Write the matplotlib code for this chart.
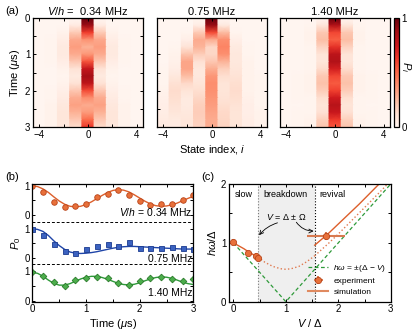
import numpy as np
import matplotlib
matplotlib.use('Agg')
import matplotlib.pyplot as plt
from matplotlib.ticker import MultipleLocator, FixedLocator

plt.rcParams['font.family'] = 'Liberation Sans'
plt.rcParams['mathtext.fontset'] = 'custom'
plt.rcParams['mathtext.rm'] = 'Liberation Sans'
plt.rcParams['mathtext.it'] = 'Liberation Sans:italic'
plt.rcParams['mathtext.bf'] = 'Liberation Sans:bold'
plt.rcParams['font.size'] = 7
plt.rcParams['axes.linewidth'] = 0.9

# ---- (a) heatmaps: P_i(t), states -4..4, rows every 0.2 us ----
STATES = np.arange(-4, 5)
MAP_TIMES = [0.0, 0.2, 0.4, 0.6, 0.8, 1.0, 1.2, 1.4, 1.6, 1.8, 2.0, 2.2, 2.4, 2.6, 2.8, 3.0]
MAP_TITLES = [r'$V/h$ =  0.34 MHz', '0.75 MHz', '1.40 MHz']

map_034 = [
    [0.00, 0.00, 0.00, 0.00, 1.00, 0.00, 0.00, 0.00, 0.00],
    [0.00, 0.00, 0.00, 0.06, 0.89, 0.06, 0.00, 0.00, 0.00],
    [0.00, 0.00, 0.02, 0.20, 0.62, 0.20, 0.02, 0.00, 0.00],
    [0.00, 0.01, 0.05, 0.31, 0.37, 0.31, 0.05, 0.01, 0.00],
    [0.00, 0.01, 0.07, 0.34, 0.28, 0.34, 0.07, 0.01, 0.00],
    [0.00, 0.01, 0.07, 0.30, 0.36, 0.30, 0.07, 0.01, 0.00],
    [0.00, 0.01, 0.05, 0.21, 0.56, 0.21, 0.05, 0.01, 0.00],
    [0.00, 0.00, 0.02, 0.11, 0.77, 0.11, 0.02, 0.00, 0.00],
    [0.00, 0.00, 0.01, 0.07, 0.87, 0.07, 0.01, 0.00, 0.00],
    [0.00, 0.00, 0.02, 0.11, 0.79, 0.11, 0.02, 0.00, 0.00],
    [0.00, 0.01, 0.04, 0.21, 0.58, 0.21, 0.04, 0.01, 0.00],
    [0.00, 0.01, 0.06, 0.30, 0.38, 0.30, 0.06, 0.01, 0.00],
    [0.00, 0.02, 0.08, 0.33, 0.30, 0.33, 0.08, 0.02, 0.00],
    [0.00, 0.02, 0.09, 0.28, 0.35, 0.28, 0.09, 0.02, 0.00],
    [0.00, 0.02, 0.09, 0.21, 0.49, 0.21, 0.09, 0.02, 0.00],
    [0.00, 0.02, 0.08, 0.14, 0.64, 0.14, 0.08, 0.02, 0.00],
]
map_075 = [
    [0.00, 0.00, 0.00, 0.00, 1.00, 0.00, 0.00, 0.00, 0.00],
    [0.00, 0.00, 0.00, 0.05, 0.90, 0.07, 0.00, 0.00, 0.00],
    [0.00, 0.00, 0.01, 0.20, 0.58, 0.25, 0.01, 0.00, 0.00],
    [0.00, 0.00, 0.04, 0.30, 0.29, 0.39, 0.04, 0.00, 0.00],
    [0.00, 0.01, 0.11, 0.27, 0.16, 0.42, 0.07, 0.01, 0.00],
    [0.00, 0.02, 0.22, 0.19, 0.16, 0.38, 0.08, 0.01, 0.00],
    [0.00, 0.03, 0.32, 0.12, 0.21, 0.27, 0.08, 0.02, 0.00],
    [0.01, 0.05, 0.32, 0.08, 0.29, 0.18, 0.09, 0.02, 0.00],
    [0.01, 0.08, 0.24, 0.08, 0.36, 0.13, 0.11, 0.02, 0.01],
    [0.01, 0.12, 0.15, 0.10, 0.39, 0.10, 0.13, 0.02, 0.01],
    [0.02, 0.14, 0.10, 0.13, 0.38, 0.10, 0.14, 0.02, 0.01],
    [0.03, 0.13, 0.07, 0.16, 0.36, 0.11, 0.13, 0.03, 0.01],
    [0.04, 0.11, 0.07, 0.18, 0.34, 0.13, 0.11, 0.04, 0.01],
    [0.05, 0.09, 0.08, 0.19, 0.32, 0.15, 0.10, 0.04, 0.02],
    [0.06, 0.07, 0.09, 0.18, 0.30, 0.16, 0.10, 0.05, 0.02],
    [0.07, 0.06, 0.09, 0.17, 0.30, 0.17, 0.10, 0.05, 0.02],
]
map_140 = [
    [0.00, 0.00, 0.00, 0.00, 1.00, 0.00, 0.00, 0.00, 0.00],
    [0.00, 0.00, 0.01, 0.09, 0.83, 0.09, 0.01, 0.00, 0.00],
    [0.00, 0.00, 0.02, 0.21, 0.59, 0.21, 0.02, 0.00, 0.00],
    [0.00, 0.00, 0.02, 0.24, 0.53, 0.24, 0.02, 0.00, 0.00],
    [0.00, 0.00, 0.01, 0.17, 0.66, 0.17, 0.01, 0.00, 0.00],
    [0.00, 0.00, 0.01, 0.10, 0.80, 0.10, 0.01, 0.00, 0.00],
    [0.00, 0.00, 0.01, 0.09, 0.83, 0.09, 0.01, 0.00, 0.00],
    [0.00, 0.00, 0.01, 0.14, 0.73, 0.14, 0.01, 0.00, 0.00],
    [0.00, 0.01, 0.02, 0.21, 0.59, 0.21, 0.02, 0.01, 0.00],
    [0.00, 0.01, 0.02, 0.23, 0.54, 0.23, 0.02, 0.01, 0.00],
    [0.00, 0.01, 0.02, 0.19, 0.61, 0.19, 0.02, 0.01, 0.00],
    [0.00, 0.01, 0.01, 0.13, 0.74, 0.13, 0.01, 0.01, 0.00],
    [0.00, 0.00, 0.01, 0.10, 0.81, 0.10, 0.01, 0.00, 0.00],
    [0.00, 0.01, 0.01, 0.12, 0.76, 0.12, 0.01, 0.01, 0.00],
    [0.00, 0.01, 0.02, 0.18, 0.63, 0.18, 0.02, 0.01, 0.00],
    [0.00, 0.01, 0.02, 0.22, 0.55, 0.22, 0.02, 0.01, 0.00],
]

# ---- (b) P_0(t) ----
exp_t = [0.0, 0.2, 0.4, 0.6, 0.8, 1.0, 1.2, 1.4, 1.6, 1.8, 2.0, 2.2, 2.4, 2.6, 2.8, 3.0]
exp_034 = [0.99, 0.80, 0.43, 0.27, 0.32, 0.38, 0.61, 0.71, 0.84, 0.67, 0.49, 0.35, 0.39, 0.39, 0.52, 0.69]
exp_075 = [1.00, 0.79, 0.49, 0.25, 0.16, 0.31, 0.42, 0.49, 0.42, 0.53, 0.33, 0.34, 0.35, 0.37, 0.34, 0.31]
exp_140 = [0.97, 0.84, 0.62, 0.51, 0.72, 0.78, 0.81, 0.77, 0.61, 0.55, 0.66, 0.77, 0.81, 0.74, 0.66, 0.74]

sim_t = [0.0, 0.1, 0.2, 0.3, 0.4, 0.5, 0.6, 0.7, 0.8, 0.9, 1.0, 1.1, 1.2, 1.3, 1.4, 1.5,
         1.6, 1.7, 1.8, 1.9, 2.0, 2.1, 2.2, 2.3, 2.4, 2.5, 2.6, 2.7, 2.8, 2.9, 3.0]
sim_034 = [1.00, 0.97, 0.89, 0.77, 0.62, 0.48, 0.37, 0.30, 0.28, 0.30, 0.36, 0.45, 0.56, 0.67, 0.77, 0.84,
           0.87, 0.85, 0.79, 0.69, 0.58, 0.47, 0.38, 0.32, 0.30, 0.31, 0.35, 0.41, 0.49, 0.57, 0.64]
sim_075 = [1.00, 0.97, 0.90, 0.76, 0.58, 0.42, 0.29, 0.20, 0.16, 0.15, 0.16, 0.18, 0.21, 0.25, 0.29, 0.33,
           0.36, 0.38, 0.39, 0.39, 0.38, 0.37, 0.36, 0.35, 0.34, 0.33, 0.32, 0.31, 0.30, 0.30, 0.30]
sim_140 = [0.97, 0.93, 0.83, 0.70, 0.59, 0.53, 0.53, 0.58, 0.66, 0.74, 0.80, 0.83, 0.83, 0.79, 0.73, 0.66,
           0.59, 0.55, 0.54, 0.56, 0.61, 0.68, 0.74, 0.79, 0.81, 0.80, 0.76, 0.70, 0.63, 0.58, 0.55]

# ---- (c) frequency vs V/Delta ----
exp_V = [0.0, 0.28, 0.44, 0.47, 1.76]
exp_hw = [1.02, 0.83, 0.78, 0.75, 1.12]
exp_Verr = [0.02, 0.02, 0.02, 0.02, 0.36]
exp_hwerr = [0.05, 0.03, 0.05, 0.04, 0.07]

slow_V = [0.0, 0.1, 0.2, 0.3, 0.4, 0.47]
slow_hw = [1.00, 0.95, 0.90, 0.84, 0.79, 0.76]
mid_V = [0.47, 0.6, 0.75, 0.9, 1.0, 1.1, 1.25, 1.4, 1.55]
mid_hw = [0.76, 0.67, 0.60, 0.56, 0.55, 0.56, 0.60, 0.68, 0.78]
rev_dot_V = [1.55, 1.8, 2.0, 2.2, 2.4, 2.6, 2.8, 2.95]
rev_dot_hw = [0.78, 0.98, 1.15, 1.33, 1.51, 1.69, 1.87, 2.01]
rev_V = [1.55, 1.8, 2.0, 2.2, 2.4, 2.6, 2.8, 2.9]
rev_hw = [0.96, 1.15, 1.32, 1.49, 1.66, 1.84, 2.02, 2.11]
gap_V = [0.0, 1.0, 3.0]
gap_hw = [1.0, 0.0, 2.0]

ORANGE = '#dd5f2b'
BLUE = '#1f45a8'
GREEN = '#2f9a3a'

fig = plt.figure(figsize=(4.15, 3.32), dpi=100)


def style_ticks(ax):
    ax.tick_params(which='both', direction='in', top=True, right=True,
                   length=2.5, width=0.7, labelsize=7, pad=2)


# ---- panel (a)
map_lefts = [0.0795, 0.378, 0.675]
maps = [map_034, map_075, map_140]
xs = np.repeat(STATES, 2) + np.tile([-0.5, 0.5], len(STATES))
for k in range(3):
    ax = fig.add_axes([map_lefts[k], 0.6175, 0.265, 0.328])
    X, Y = np.meshgrid(xs, MAP_TIMES)
    C = np.repeat(np.array(maps[k]), 2, axis=1)
    mesh = ax.pcolormesh(X, Y, C, shading='gouraud', cmap='Reds', vmin=0, vmax=1)
    ax.set_xlim(-4.5, 4.5)
    ax.set_ylim(3, 0)
    ax.xaxis.set_major_locator(FixedLocator([-4, 0, 4]))
    ax.xaxis.set_minor_locator(FixedLocator([-2, 2]))
    ax.yaxis.set_major_locator(MultipleLocator(1))
    ax.yaxis.set_minor_locator(MultipleLocator(0.5))
    style_ticks(ax)
    ax.set_title(MAP_TITLES[k], fontsize=8, pad=2)
    if k == 0:
        ax.set_ylabel(r'Time ($\mu$s)', fontsize=8, labelpad=2)
    else:
        ax.set_yticklabels([])
    if k == 1:
        ax.set_xlabel(r'State index, $i$', fontsize=8, labelpad=2)

cax = fig.add_axes([0.949, 0.6175, 0.012, 0.328])
cb = fig.colorbar(mesh, cax=cax, ticks=[0, 1])
cb.ax.tick_params(length=0, labelsize=7, pad=2)
cb.outline.set_linewidth(0.9)
fig.text(0.978, 0.80, r'$P_i$', rotation=270, fontsize=8, ha='center', va='center')

# ---- panel (b)
axb = fig.add_axes([0.078, 0.0913, 0.388, 0.3545])
offsets = [2.92, 1.46, 0.0]
series = [
    (exp_034, sim_034, ORANGE, 'o', '#e8703a', '#b8441a', 4.0),
    (exp_075, sim_075, BLUE, 's', '#3b62c0', '#1a3a90', 3.6),
    (exp_140, sim_140, GREEN, 'D', '#4cae4c', '#2a7a2a', 3.4),
]
for (ex, sm, lc, mk, fc, ec, ms), off in zip(series, offsets):
    axb.plot(sim_t, np.array(sm) + off, color=lc, lw=1.0)
    axb.plot(exp_t, np.array(ex) + off, mk, color=fc, mec=ec, mew=0.6, ms=ms, ls='none')
for yl in [2.676, 1.242]:
    axb.axhline(yl, color='k', lw=0.7, ls=(0, (3, 2)))
axb.text(2.98, 3.04, r'$V/h$ = 0.34 MHz', ha='right', va='center', fontsize=7.5)
axb.text(2.98, 1.41, '0.75 MHz', ha='right', va='center', fontsize=7.5)
axb.text(2.98, 0.27, '1.40 MHz', ha='right', va='center', fontsize=7.5)
axb.set_xlim(0, 3)
axb.set_ylim(-0.035, 3.98)
axb.yaxis.set_major_locator(FixedLocator([0, 1, 1.46, 2.46, 2.92, 3.92]))
axb.set_yticklabels(['0', '1', '0', '1', '0', '1'])
axb.yaxis.set_minor_locator(FixedLocator([0.5, 1.96, 3.42]))
axb.xaxis.set_major_locator(MultipleLocator(1))
axb.xaxis.set_minor_locator(MultipleLocator(0.5))
style_ticks(axb)
axb.set_xlabel(r'Time ($\mu$s)', fontsize=8, labelpad=2)
axb.set_ylabel(r'$P_0$', fontsize=8, labelpad=1)

# ---- panel (c)
axc = fig.add_axes([0.552, 0.0913, 0.3896, 0.3545])
axc.axvspan(0.46, 1.55, color='#efefef', lw=0, zorder=0)
axc.axvline(0.46, color='#777777', lw=0.8, ls=':', zorder=1)
axc.axvline(1.55, color='k', lw=0.8, ls=':', zorder=1)
h_gap, = axc.plot(gap_V, gap_hw, color=GREEN, lw=0.9, ls=(0, (3, 2)))
axc.plot(mid_V, mid_hw, color='#e07a50', lw=1.0, ls=':')
axc.plot(rev_dot_V, rev_dot_hw, color='#e07a50', lw=1.0, ls=':')
axc.plot(slow_V, slow_hw, color=ORANGE, lw=1.0)
axc.plot(rev_V, rev_hw, color=ORANGE, lw=1.0)
h_exp = axc.errorbar(exp_V, exp_hw, xerr=exp_Verr, yerr=exp_hwerr, fmt='o', color='#e8703a',
                     mec='#b8441a', mew=0.6, ms=4.5, ecolor='#d87a50', elinewidth=1.5,
                     capsize=0, zorder=5)
h_sim, = axc.plot([], [], color='#e08a60', lw=1.5)
axc.text(0.03, 1.82, 'slow', fontsize=6.5, va='center')
axc.text(1.0, 1.82, 'breakdown', fontsize=6.5, va='center', ha='center')
axc.text(1.63, 1.82, 'revival', fontsize=6.5, va='center')
axc.text(1.0, 1.44, r'$V$ = $\Delta$ ± $\Omega$', fontsize=6.5, va='center', ha='center')
axc.annotate('', xy=(0.49, 1.13), xytext=(0.84, 1.34),
             arrowprops=dict(arrowstyle='->', lw=0.6, color='k',
                             connectionstyle='arc3,rad=0.15', shrinkA=0, shrinkB=0))
axc.annotate('', xy=(1.53, 1.2), xytext=(1.2, 1.35),
             arrowprops=dict(arrowstyle='->', lw=0.6, color='k',
                             connectionstyle='arc3,rad=0.25', shrinkA=0, shrinkB=0))
axc.legend([h_gap, h_exp, h_sim],
           [r'$h\omega$ = ±($\Delta$ − $V$)', 'experiment', 'simulation'],
           loc='lower right', bbox_to_anchor=(1.01, 0.0), fontsize=6, frameon=False,
           handlelength=2.4, handletextpad=0.6, labelspacing=0.35, borderaxespad=0.3)
axc.set_xlim(-0.082, 3)
axc.set_ylim(0, 2)
axc.xaxis.set_major_locator(MultipleLocator(1))
axc.xaxis.set_minor_locator(MultipleLocator(0.5))
axc.yaxis.set_major_locator(MultipleLocator(1))
axc.yaxis.set_minor_locator(MultipleLocator(0.5))
style_ticks(axc)
axc.set_xlabel(r'$V$ / $\Delta$', fontsize=8, labelpad=2)
axc.set_ylabel(r'$h\omega/\Delta$', fontsize=8, labelpad=2)

fig.text(0.013, 0.967, '(a)', fontsize=8, va='center')
fig.text(0.013, 0.467, '(b)', fontsize=8, va='center')
fig.text(0.486, 0.467, '(c)', fontsize=8, va='center')

fig.savefig('out.png', dpi=100)
